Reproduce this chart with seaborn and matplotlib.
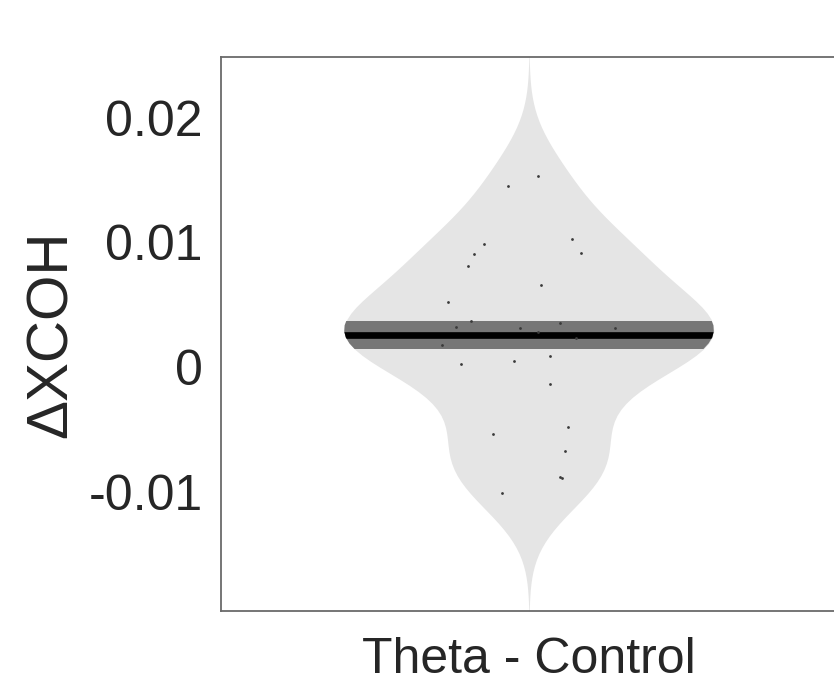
import numpy as np
import pandas as pd
import seaborn as sns
import matplotlib
matplotlib.use("Agg")
import matplotlib.pyplot as plt

# ---- data ----
category = "Theta - Control"
delta_xcoh = [0.01534, 0.01454, 0.01028, 0.00986, 0.00916, 0.00910, 0.00810,
              0.00658, 0.00526, 0.00372, 0.00324, 0.00314, 0.00356, 0.00314,
              0.00286, 0.00234, 0.00178, 0.00026, 0.00054, 0.00094, -0.00134,
              -0.00532, -0.00478, -0.00668, -0.00874, -0.00882, -0.01004]
jitter = [0.0141, -0.0346, 0.0703, -0.0735, 0.0839, -0.0898, -0.0990,
          0.0190, -0.1310, -0.0946, -0.1190, -0.0151, 0.0508, 0.1396,
          0.0146, 0.0768, -0.1417, -0.1109, -0.0248, 0.0336, 0.0341,
          -0.0584, 0.0633, 0.0584, 0.0503, 0.0536, -0.0438]
mean_value = 0.0026
sem_value = 0.0011
yticks = [-0.01, 0, 0.01, 0.02]
ytick_labels = ["-0.01", "0", "0.01", "0.02"]
ylabel = "\u0394XCOH"

df = pd.DataFrame({"cond": [category] * len(delta_xcoh), "val": delta_xcoh})

sns.set_theme(style="white")
plt.rcParams["font.family"] = ["Liberation Sans", "DejaVu Sans"]

fig = plt.figure(figsize=(8.34, 6.73), dpi=100)
ax = fig.add_axes([221 / 834, 62 / 673, 616 / 834, 554 / 673])

sns.violinplot(data=df, x="cond", y="val", ax=ax, inner=None, cut=3.5,
               bw_adjust=0.9, width=0.6, color="#e5e5e5", linewidth=0,
               saturation=1)
violin = ax.collections[0]
vpath = violin.get_paths()[0]
vtrans = violin.get_transform()

band = ax.axhspan(mean_value - sem_value, mean_value + sem_value,
                  color="#767676", lw=0, zorder=3)
band.set_clip_path(vpath, vtrans)
line = ax.axhline(mean_value, color="black", lw=4.8, zorder=4)
line.set_clip_path(vpath, vtrans)

xs = np.array(jitter)
ax.scatter(xs, delta_xcoh, s=4, color="#3a3a3a", lw=0, zorder=5)

ax.set_xlim(-0.5, 0.5)
ax.set_ylim(-0.01948, 0.02484)
ax.set_yticks(yticks)
ax.set_yticklabels(ytick_labels)
ax.set_xlabel("")
ax.set_ylabel(ylabel, fontsize=42, color="#262626", labelpad=7)
ax.tick_params(axis="both", length=0, labelsize=36, colors="#262626", pad=13)
ax.tick_params(axis="x", pad=19)
for s in ["top", "left", "bottom", "right"]:
    ax.spines[s].set_color("#6a6a6a")
    ax.spines[s].set_linewidth(1.3)

fig.savefig("out.png", dpi=100)
